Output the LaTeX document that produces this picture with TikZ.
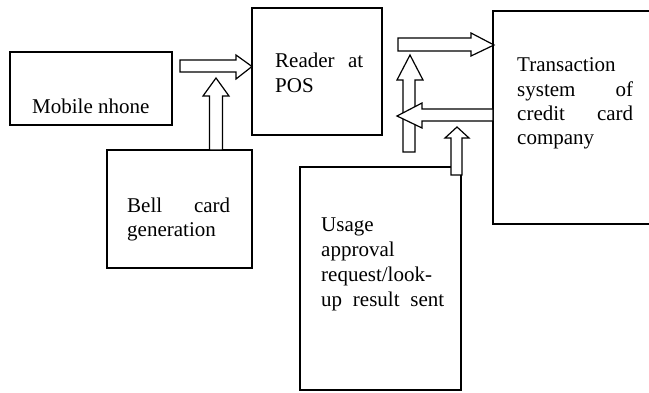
\documentclass[tikz,border=0pt]{standalone}
\usepackage{fontspec}
\setmainfont{Liberation Serif}
\begin{document}
\begin{tikzpicture}[x=1pt,y=-1pt,
  box/.style={draw,line width=1.2pt,rectangle,inner sep=0pt},
  lbl/.style={inner sep=0pt,anchor=base west,font=\fontsize{21}{25}\selectfont},
  blockarrow/.style={draw,fill=white,line width=1.2pt,line join=miter}]
\useasboundingbox (0,0) rectangle (649,393);
\clip (0,0) rectangle (649,393);
% boxes
\node[box,minimum width=162pt,minimum height=73pt] (mobile) at (91,88.5) {};
\node[box,minimum width=130pt,minimum height=127pt] (reader) at (317,71.5) {};
\node[box,minimum width=145pt,minimum height=118pt] (bell) at (179.5,209) {};
\node[box,minimum width=161pt,minimum height=223pt] (usage) at (380.5,278.5) {};
\node[box,minimum width=167pt,minimum height=213pt] (trans) at (576.5,117.5) {};
% texts
\node[lbl] (tmobile) at (32,114) {Mobile nhone};
\node[lbl] (treader) at (275,68) {\parbox[t]{88pt}{\fontsize{21}{25}\selectfont Reader\hfill at\\POS}};
\node[lbl] (tbell) at (127,213) {\parbox[t]{103pt}{\fontsize{21}{24}\selectfont Bell\hfill card\\generation}};
\node[lbl] (ttrans) at (517,72) {\parbox[t]{116pt}{\fontsize{21}{24.3}\selectfont Transaction\\system\hfill of\\credit\hfill card\\company}};
\node[lbl] (tusage) at (321,232) {\parbox[t]{123pt}{\fontsize{21}{25}\selectfont Usage\\approval\\request/look-\\up\hfill result\hfill sent}};
% block arrows
\draw[blockarrow] (180,60) -- (236,60) -- (236,55) -- (252,66.5) -- (236,79) -- (236,72) -- (180,72) -- cycle;
\draw[blockarrow] (209.5,150) -- (209.5,96) -- (203,96) -- (216,78) -- (229,96) -- (222.5,96) -- (222.5,150) -- cycle;
\draw[blockarrow] (398,38) -- (471,38) -- (471,33) -- (494,45) -- (471,56) -- (471,51) -- (398,51) -- cycle;
\draw[blockarrow] (403,152) -- (403,80) -- (397,80) -- (410,55) -- (423,80) -- (415,80) -- (415,152) -- cycle;
\draw[blockarrow] (493,109) -- (422,109) -- (422,103) -- (397,116) -- (422,128) -- (422,121) -- (493,121) -- cycle;
\draw[blockarrow] (451,175) -- (451,138) -- (445,138) -- (457,127) -- (469,138) -- (462,138) -- (462,175) -- cycle;
\end{tikzpicture}
\end{document}
